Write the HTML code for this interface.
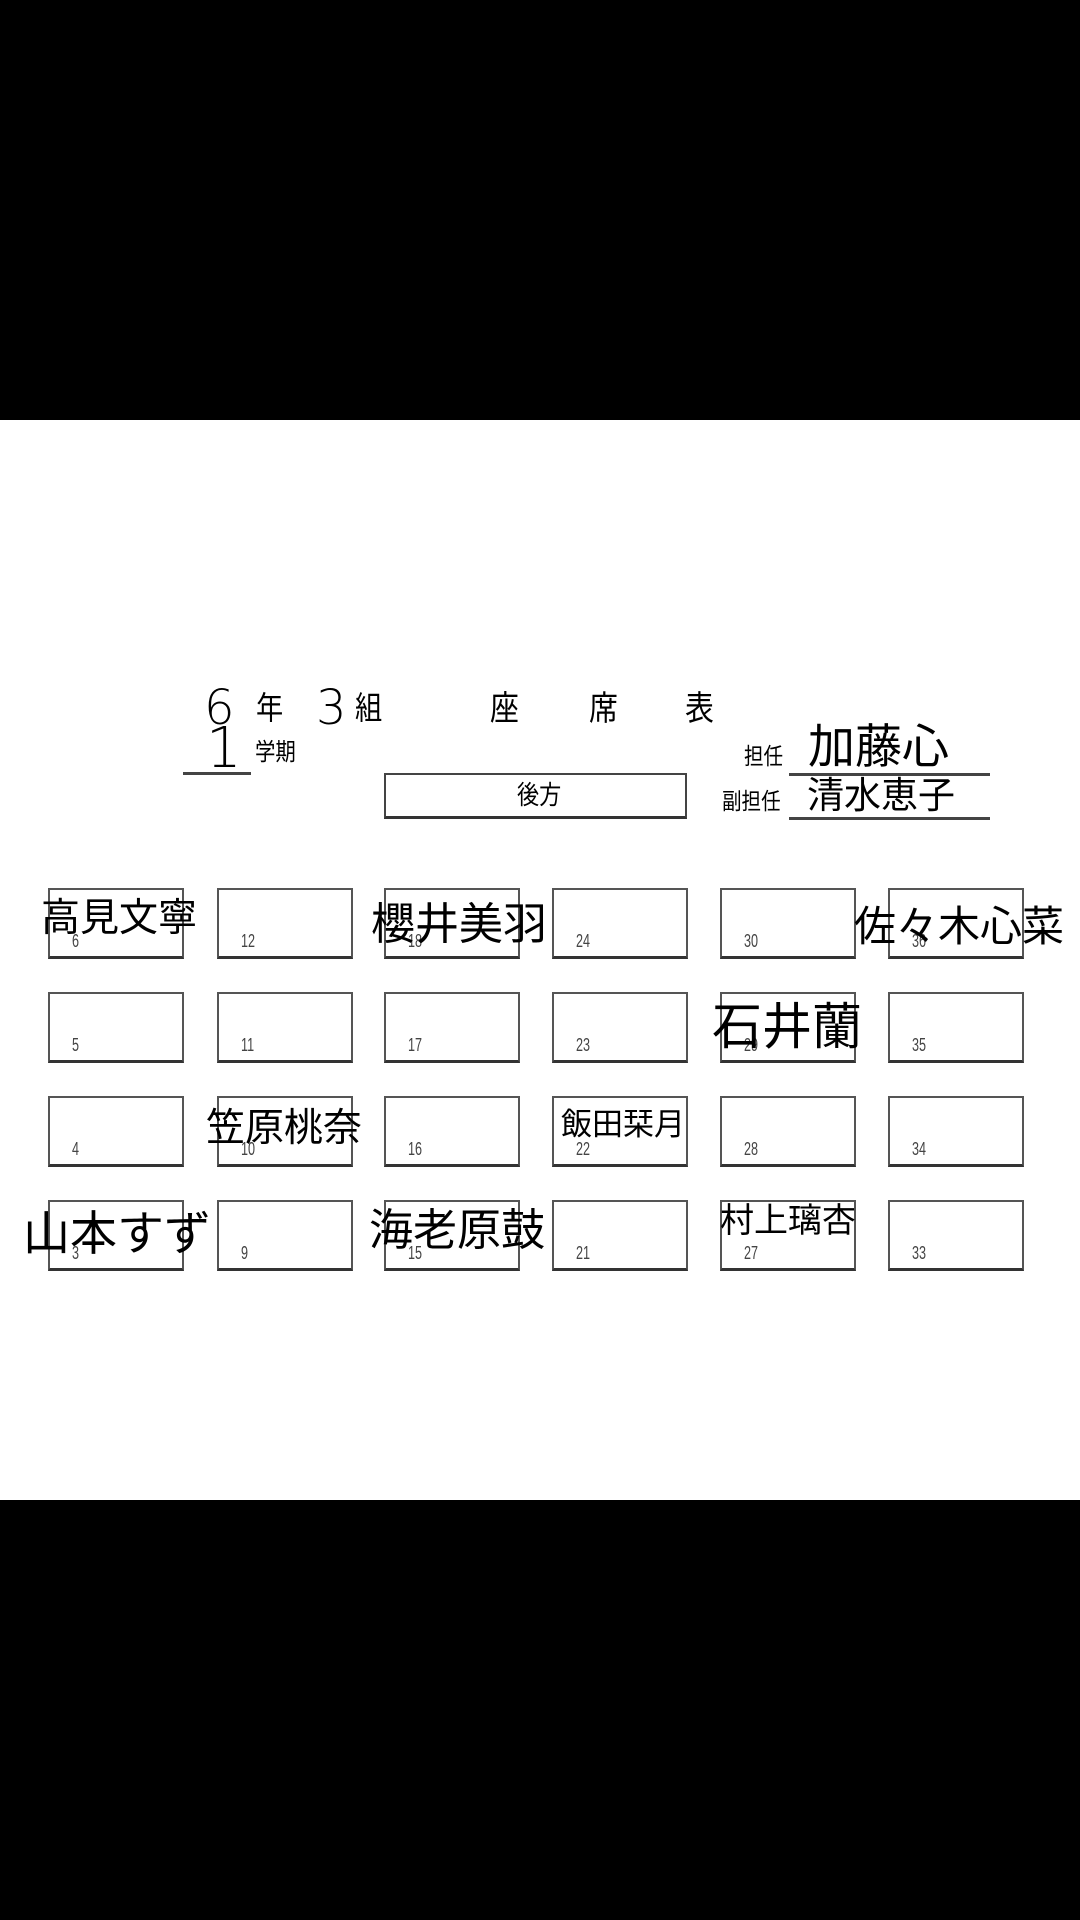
<!DOCTYPE html>
<html><head><meta charset="utf-8"><style>
html,body{margin:0;padding:0}
body{width:1080px;height:1920px;position:relative;background:#fff;overflow:hidden;font-family:"Liberation Sans","Noto Sans CJK JP",sans-serif;color:#000}
.blk{position:absolute;left:0;width:1080px;background:#000}
.t{position:absolute;line-height:1;white-space:nowrap}
.b{position:absolute;box-sizing:border-box;border:2px solid #555;border-bottom:3px solid #333;width:136px;height:71px}
.n{position:absolute;font-size:18px;color:#444;left:22px;bottom:4px;transform:scaleX(0.7);transform-origin:left bottom}
.ln{position:absolute;height:3px;background:#444}
.hd{transform:scaleX(0.85);transform-origin:left top}
</style></head><body>
<div class="blk" style="top:0;height:420px"></div>
<div class="blk" style="top:1500px;height:420px"></div>

<div class="t" style="left:204px;top:684px;font-size:48px;font-family:'DejaVu Sans',sans-serif;font-weight:200">6</div>
<div class="t hd" style="left:256px;top:692px;font-size:32px">年</div>
<div class="t" style="left:316px;top:684px;font-size:48px;font-family:'DejaVu Sans',sans-serif;font-weight:200">3</div>
<div class="t hd" style="left:355px;top:692px;font-size:32px">組</div>
<div class="t hd" style="left:490px;top:692px;font-size:34px">座</div>
<div class="t hd" style="left:589px;top:692px;font-size:34px">席</div>
<div class="t hd" style="left:685px;top:692px;font-size:34px">表</div>
<div class="t" style="left:206px;top:721px;font-size:56px;font-family:'DejaVu Sans',sans-serif;font-weight:200">1</div>
<div class="ln" style="left:183px;top:772px;width:68px"></div>
<div class="t hd" style="left:255px;top:741px;font-size:24px">学期</div>
<div class="t hd" style="left:744px;top:745px;font-size:23px">担任</div>
<div class="t" style="left:808px;top:723px;font-size:47px">加藤心</div>
<div class="ln" style="left:789px;top:773px;width:201px"></div>
<div style="position:absolute;left:384px;top:773px;width:303px;height:46px;box-sizing:border-box;border:2px solid #444;border-bottom:3px solid #333"></div>
<div class="t hd" style="left:517px;top:782px;font-size:26px">後方</div>
<div class="t hd" style="left:722px;top:790px;font-size:23px">副担任</div>
<div class="t" style="left:807px;top:777px;font-size:37px">清水恵子</div>
<div class="ln" style="left:789px;top:817px;width:201px"></div>

<div class="b" style="left:48px;top:888px"><span class="n">6</span></div>
<div class="b" style="left:217px;top:888px"><span class="n">12</span></div>
<div class="b" style="left:384px;top:888px"><span class="n">18</span></div>
<div class="b" style="left:552px;top:888px"><span class="n">24</span></div>
<div class="b" style="left:720px;top:888px"><span class="n">30</span></div>
<div class="b" style="left:888px;top:888px"><span class="n">36</span></div>

<div class="b" style="left:48px;top:992px"><span class="n">5</span></div>
<div class="b" style="left:217px;top:992px"><span class="n">11</span></div>
<div class="b" style="left:384px;top:992px"><span class="n">17</span></div>
<div class="b" style="left:552px;top:992px"><span class="n">23</span></div>
<div class="b" style="left:720px;top:992px"><span class="n">29</span></div>
<div class="b" style="left:888px;top:992px"><span class="n">35</span></div>

<div class="b" style="left:48px;top:1096px"><span class="n">4</span></div>
<div class="b" style="left:217px;top:1096px"><span class="n">10</span></div>
<div class="b" style="left:384px;top:1096px"><span class="n">16</span></div>
<div class="b" style="left:552px;top:1096px"><span class="n">22</span></div>
<div class="b" style="left:720px;top:1096px"><span class="n">28</span></div>
<div class="b" style="left:888px;top:1096px"><span class="n">34</span></div>

<div class="b" style="left:48px;top:1200px"><span class="n">3</span></div>
<div class="b" style="left:217px;top:1200px"><span class="n">9</span></div>
<div class="b" style="left:384px;top:1200px"><span class="n">15</span></div>
<div class="b" style="left:552px;top:1200px"><span class="n">21</span></div>
<div class="b" style="left:720px;top:1200px"><span class="n">27</span></div>
<div class="b" style="left:888px;top:1200px"><span class="n">33</span></div>

<div class="t" style="left:41px;top:899px;font-size:39px">高見文寧</div>
<div class="t" style="left:371px;top:903px;font-size:44px">櫻井美羽</div>
<div class="t" style="left:854px;top:906px;font-size:42px">佐々木心菜</div>
<div class="t" style="left:712px;top:1002px;font-size:50px">石井蘭</div>
<div class="t" style="left:206px;top:1109px;font-size:39px">笠原桃奈</div>
<div class="t" style="left:561px;top:1109px;font-size:31px">飯田栞月</div>
<div class="t" style="left:23px;top:1210px;font-size:47px">山本すず</div>
<div class="t" style="left:369px;top:1209px;font-size:44px">海老原鼓</div>
<div class="t" style="left:720px;top:1204px;font-size:34px">村上璃杏</div>
</body></html>
